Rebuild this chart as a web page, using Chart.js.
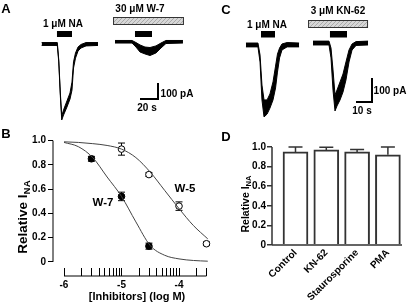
<!DOCTYPE html>
<html>
<head>
<meta charset="utf-8">
<script src="https://cdn.jsdelivr.net/npm/chart.js@4/dist/chart.umd.min.js"></script>
<style>
  body { margin: 0; background: #fff; }
  #fig { position: relative; width: 409px; height: 305px; overflow: hidden;
         font-family: "Liberation Sans", Arial, sans-serif; font-weight: bold; color: #000; }
  canvas { position: absolute; }
  .t { position: absolute; white-space: nowrap; line-height: 1; transform: translate(-50%, -50%); }
  .rot { transform: translate(-50%, -50%) rotate(-90deg); }
  sub { font-size: 0.72em; vertical-align: -0.3em; line-height: 0; }
</style>
</head>
<body>
<div id="fig">
  <canvas id="ca" width="205" height="130" style="left:0;top:0"></canvas>
  <canvas id="cc" width="204" height="130" style="left:205px;top:0"></canvas>
  <canvas id="cb" width="215" height="177" style="left:0;top:128px"></canvas>
  <canvas id="cd" width="194" height="177" style="left:215px;top:128px"></canvas>

  <div class="t" style="left:6px;top:7.5px;font-size:13px">A</div>
  <div class="t" style="left:63px;top:24px;font-size:10px">1 μM NA</div>
  <div class="t" style="left:140px;top:9px;font-size:10px">30 μM W-7</div>
  <div class="t" style="left:177px;top:94px;font-size:10px">100 pA</div>
  <div class="t" style="left:147px;top:108px;font-size:10px">20 s</div>

  <div class="t" style="left:226px;top:9px;font-size:13px">C</div>
  <div class="t" style="left:267px;top:24.5px;font-size:10px">1 μM NA</div>
  <div class="t" style="left:338px;top:11px;font-size:10px">3 μM KN-62</div>
  <div class="t" style="left:390px;top:90.5px;font-size:10px">100 pA</div>
  <div class="t" style="left:362px;top:110.5px;font-size:10px">10 s</div>

  <div class="t" style="left:6px;top:133px;font-size:13px">B</div>
  <div class="t rot" style="left:23px;top:217px;font-size:13.5px">Relative I<sub>NA</sub></div>
  <div class="t" style="left:103px;top:203px;font-size:11.5px">W-7</div>
  <div class="t" style="left:185px;top:189px;font-size:11.5px">W-5</div>
  <div class="t" style="left:137px;top:296px;font-size:11px">[Inhibitors] (log M)</div>

  <div class="t" style="left:226px;top:136px;font-size:13px">D</div>
  <div class="t rot" style="left:245px;top:203.5px;font-size:10.5px">Relative I<sub>NA</sub></div>
</div>
<script>
// Panel A: whole-cell currents (pA) vs time (s); hi/lo = envelope of the noisy trace
const A_TIME_CTRL = [46.3, 63.7, 65.3, 67.0, 68.6, 70.6, 74.4, 77.8, 80.0, 81.7, 83.9, 86.7, 90.0, 95.6, 108.9];
const A_HI_CTRL = [9, 9, -100, -300, -450, -412, -356, -306, -238, -112, -56, -19, -3, 9, 9];
const A_LO_CTRL = [-9, -9, -112, -319, -475, -444, -394, -344, -288, -150, -88, -44, -25, -12, -9];
const A_TIME_W7 = [127.8, 146.7, 151.1, 155.6, 161.1, 166.7, 173.3, 178.9, 184.4, 203.3];
const A_HI_W7 = [22, 22, 9, -6, -19, -22, -12, 6, 22, 22];
const A_LO_W7 = [6, 6, -19, -50, -62, -72, -56, -25, 3, 6];
const A_NA = [[63.3, 80], [150, 168.9]];
const A_DRUG = [[125.6, 204.4]];

// Panel C
const C_TIME_CTRL = [25.6, 33.1, 34.4, 35.6, 36.9, 38.8, 40.6, 42.5, 44.1, 45.3, 46.6, 48.1, 51.3, 58.8];
const C_HI_CTRL = [4, 4, -46, -171, -233, -233, -208, -158, -92, -42, -17, 0, 6, 4];
const C_LO_CTRL = [-12, -12, -75, -233, -304, -292, -267, -233, -183, -117, -58, -25, -12, -12];
const C_TIME_KN = [67.5, 77.5, 78.75, 80, 81.25, 82.5, 84.4, 86.25, 88.1, 90, 91.9, 94.4, 101.9];
const C_HI_KN = [12, 12, -17, -108, -212, -192, -158, -125, -75, -25, 0, 10, 12];
const C_LO_KN = [-4, -4, -58, -192, -279, -258, -233, -200, -150, -75, -25, -6, -4];
const C_NA = [[35, 43.75], [78.1, 88.75]];
const C_DRUG = [[64.4, 101.9]];

// Panel B: concentration-response (log M vs relative I_NA)
const W7_CONC = [3e-6, 1e-5, 3e-5];
const W7_MEAN = [0.85, 0.54, 0.13];
const W7_SEM = [0.02, 0.035, 0.025];
const W5_CONC = [1e-5, 3e-5, 1e-4, 3e-4];
const W5_MEAN = [0.93, 0.72, 0.46, 0.15];
const W5_SEM = [0.05, 0.015, 0.035, 0.015];
const FIT_LOG = [-6, -5.75, -5.5, -5.25, -5, -4.75, -4.5, -4.25, -4, -3.75, -3.5];
const W7_FIT = [0.985, 0.95, 0.86, 0.70, 0.54, 0.33, 0.135, 0.055, 0.025, 0.012, 0.006];
const W5_FIT = [0.99, 0.985, 0.975, 0.96, 0.93, 0.86, 0.74, 0.59, 0.44, 0.30, 0.19];
const B_TICK_CONC = [1e-6, 2e-6, 3e-6, 4e-6, 5e-6, 6e-6, 7e-6, 8e-6, 9e-6,
  1e-5, 2e-5, 3e-5, 4e-5, 5e-5, 6e-5, 7e-5, 8e-5, 9e-5, 1e-4, 2e-4, 3e-4];
const Y_TICKS = [0, 0.2, 0.4, 0.6, 0.8, 1.0];

// Panel D
const D_GROUPS = ["Control", "KN-62", "Staurosporine", "PMA"];
const D_MEAN = [0.95, 0.97, 0.95, 0.92];
const D_SEM = [0.05, 0.028, 0.025, 0.08];

Chart.defaults.font.family = '"Liberation Sans", Arial, sans-serif';
Chart.defaults.font.size = 10;
Chart.defaults.font.weight = "bold";
Chart.defaults.color = "#000";

const pts = (xs, ys) => xs.map((x, i) => ({ x, y: ys[i] }));

// light grey hatch for the drug application bar
const hatchTile = document.createElement("canvas");
hatchTile.width = 4;
hatchTile.height = 4;
{
  const g = hatchTile.getContext("2d");
  g.fillStyle = "#d6d6d6";
  g.fillRect(0, 0, 4, 4);
  g.strokeStyle = "#a9a9a9";
  g.beginPath();
  g.moveTo(0, 4);
  g.lineTo(4, 0);
  g.stroke();
}

// application bars + L-shaped scale bar, placed through the chart's own scales
function traceMarks(na, drug, look) {
  return {
    id: "traceMarks",
    afterDatasetsDraw(chart) {
      const { ctx, scales: { x, y } } = chart;
      ctx.save();
      for (const [t0, t1] of drug) {
        const x0 = x.getPixelForValue(t0), x1 = x.getPixelForValue(t1);
        ctx.fillStyle = ctx.createPattern(hatchTile, "repeat");
        ctx.fillRect(x0, look.drugY, x1 - x0, look.drugH);
        ctx.strokeStyle = "#333";
        ctx.lineWidth = 1;
        ctx.strokeRect(x0 + 0.5, look.drugY + 0.5, x1 - x0 - 1, look.drugH - 1);
      }
      ctx.fillStyle = "#000";
      for (const [t0, t1] of na) {
        const x0 = x.getPixelForValue(t0), x1 = x.getPixelForValue(t1);
        ctx.fillRect(x0, look.naY, x1 - x0, look.naH);
      }
      const [cx, cy] = look.barAt;
      const w = x.getPixelForValue(look.sec) - x.getPixelForValue(0);
      const h = y.getPixelForValue(0) - y.getPixelForValue(look.pA);
      ctx.strokeStyle = "#000";
      ctx.lineWidth = 2;
      ctx.beginPath();
      ctx.moveTo(cx - w, cy);
      ctx.lineTo(cx, cy);
      ctx.lineTo(cx, cy - h);
      ctx.stroke();
      ctx.restore();
    },
  };
}

function traceChart(id, sweeps, xMax, yMin, yMax, marks) {
  const datasets = [];
  for (const s of sweeps) {
    datasets.push({ data: pts(s.t, s.hi), borderColor: "#000", borderWidth: 1, pointRadius: 0, fill: false });
    datasets.push({ data: pts(s.t, s.lo), borderColor: "#000", borderWidth: 1, pointRadius: 0,
      fill: "-1", backgroundColor: "#000" });
  }
  return new Chart(document.getElementById(id), {
    type: "line",
    data: { datasets },
    options: {
      responsive: false,
      animation: false,
      layout: { padding: 0 },
      plugins: { legend: { display: false }, tooltip: { enabled: false } },
      scales: {
        x: { type: "linear", display: false, min: 0, max: xMax },
        y: { display: false, min: yMin, max: yMax },
      },
    },
    plugins: [marks],
  });
}

// error bars drawn under the markers
function errorBars(specs) {
  return {
    id: "errorBars",
    beforeDatasetsDraw(chart) {
      const { ctx, scales: { y } } = chart;
      ctx.save();
      for (const s of specs) {
        const meta = chart.getDatasetMeta(s.ds);
        ctx.strokeStyle = s.color;
        ctx.lineWidth = s.width;
        s.mean.forEach((m, i) => {
          const px = meta.data[i].x;
          const top = y.getPixelForValue(m + s.sem[i]);
          const bot = s.upOnly ? y.getPixelForValue(m) : y.getPixelForValue(m - s.sem[i]);
          ctx.beginPath();
          ctx.moveTo(px, bot);
          ctx.lineTo(px, top);
          ctx.moveTo(px - s.cap / 2, top);
          ctx.lineTo(px + s.cap / 2, top);
          if (!s.upOnly) {
            ctx.moveTo(px - s.cap / 2, bot);
            ctx.lineTo(px + s.cap / 2, bot);
          }
          ctx.stroke();
        });
      }
      ctx.restore();
    },
  };
}

// axis lines that only span the data range, plus inward x ticks
function rangeFrame(o) {
  return {
    id: "rangeFrame",
    afterDraw(chart) {
      const { ctx, chartArea: a, scales: { x, y } } = chart;
      ctx.save();
      ctx.strokeStyle = o.color;
      ctx.lineWidth = o.width;
      ctx.beginPath();
      ctx.moveTo(a.left, y.getPixelForValue(o.yFrom));
      ctx.lineTo(a.left, y.getPixelForValue(o.yTo));
      ctx.moveTo(x.getPixelForValue(o.xFrom), a.bottom);
      ctx.lineTo(x.getPixelForValue(o.xTo), a.bottom);
      if (o.xTickLen) {
        for (const t of x.ticks) {
          const px = Math.round(x.getPixelForValue(t.value)) + 0.5;
          ctx.moveTo(px, a.bottom);
          ctx.lineTo(px, a.bottom - o.xTickLen);
        }
      }
      ctx.stroke();
      ctx.restore();
    },
  };
}

traceChart("ca",
  [{ t: A_TIME_CTRL, hi: A_HI_CTRL, lo: A_LO_CTRL }, { t: A_TIME_W7, hi: A_HI_W7, lo: A_LO_W7 }],
  227.8, -537.5, 275,
  traceMarks(A_NA, A_DRUG, { naY: 31, naH: 6, drugY: 17, drugH: 8, barAt: [158, 99], sec: 20, pA: 100 }));

traceChart("cc",
  [{ t: C_TIME_CTRL, hi: C_HI_CTRL, lo: C_LO_CTRL }, { t: C_TIME_KN, hi: C_HI_KN, lo: C_LO_KN }],
  127.5, -358.3, 183.3,
  traceMarks(C_NA, C_DRUG, { naY: 31, naH: 6.5, drugY: 20, drugH: 8, barAt: [167, 102], sec: 10, pA: 100 }));

const isDecade = (v) => Math.abs(v - Math.round(v)) < 1e-6;

new Chart(document.getElementById("cb"), {
  type: "scatter",
  data: {
    datasets: [
      { type: "line", data: pts(FIT_LOG, W7_FIT), borderColor: "#444", borderWidth: 1, pointRadius: 0,
        cubicInterpolationMode: "monotone", fill: false, clip: false },
      { type: "line", data: pts(FIT_LOG, W5_FIT), borderColor: "#444", borderWidth: 1, pointRadius: 0,
        cubicInterpolationMode: "monotone", fill: false, clip: false },
      { data: pts(W7_CONC.map(Math.log10), W7_MEAN), pointRadius: 3.3, backgroundColor: "#000",
        borderColor: "#000", borderWidth: 1, clip: false },
      { data: pts(W5_CONC.map(Math.log10), W5_MEAN), pointRadius: 3.3, backgroundColor: "#fff",
        borderColor: "#000", borderWidth: 1, clip: false },
    ],
  },
  options: {
    responsive: false,
    animation: false,
    layout: { padding: { top: 6, right: 7, left: 0, bottom: 0 } },
    plugins: { legend: { display: false }, tooltip: { enabled: false } },
    scales: {
      x: {
        type: "linear", min: -6.191, max: -3.496,
        afterFit: (s) => { s.height = 29; },
        afterBuildTicks: (s) => { s.ticks = B_TICK_CONC.map((c) => ({ value: Math.log10(c) })); },
        grid: { display: false, drawTicks: false },
        border: { display: false },
        ticks: { autoSkip: false, maxRotation: 0, padding: 3,
          callback: (v) => (isDecade(v) ? String(Math.round(v)) : "") },
      },
      y: {
        min: -0.116, max: 1.038,
        afterFit: (s) => { s.width = 53; },
        afterBuildTicks: (s) => { s.ticks = Y_TICKS.map((v) => ({ value: v })); },
        grid: { drawOnChartArea: false, tickLength: 5, color: "#000" },
        border: { display: false },
        ticks: { padding: 2, callback: (v) => (v === 0 ? "0" : v.toFixed(1)) },
      },
    },
  },
  plugins: [
    errorBars([
      { ds: 2, mean: W7_MEAN, sem: W7_SEM, cap: 7, width: 1, color: "#000" },
      { ds: 3, mean: W5_MEAN, sem: W5_SEM, cap: 7, width: 1, color: "#000" },
    ]),
    rangeFrame({ yFrom: 0, yTo: 1, xFrom: -6, xTo: Math.log10(3e-4), xTickLen: 8, color: "#000", width: 1 }),
  ],
});

new Chart(document.getElementById("cd"), {
  type: "bar",
  data: {
    datasets: [{
      data: D_MEAN.map((v, i) => ({ x: i, y: v })),
      backgroundColor: "#fff", borderColor: "#333", borderWidth: 2, barThickness: 25,
    }],
  },
  options: {
    responsive: false,
    animation: false,
    layout: { padding: { top: 13, right: 7, left: 0, bottom: 0 } },
    plugins: { legend: { display: false }, tooltip: { enabled: false } },
    scales: {
      x: {
        type: "linear", min: -0.763, max: 3.458, offset: false,
        afterFit: (s) => { s.height = 60; },
        afterBuildTicks: (s) => { s.ticks = D_GROUPS.map((_, i) => ({ value: i })); },
        grid: { display: false, drawTicks: false, offset: false },
        border: { display: false },
        ticks: { autoSkip: false, minRotation: 45, maxRotation: 45, padding: 2,
          callback: (v) => D_GROUPS[v] },
      },
      y: {
        min: 0, max: 1.061,
        afterFit: (s) => { s.width = 57; },
        afterBuildTicks: (s) => { s.ticks = Y_TICKS.map((v) => ({ value: v })); },
        grid: { drawOnChartArea: false, tickLength: 5, color: "#333", lineWidth: 1.5 },
        border: { display: false },
        ticks: { padding: 1, callback: (v) => (v === 0 ? "0" : v.toFixed(1)) },
      },
    },
  },
  plugins: [
    errorBars([{ ds: 0, mean: D_MEAN, sem: D_SEM, cap: 14, width: 1.5, color: "#333", upOnly: true }]),
    rangeFrame({ yFrom: 0, yTo: 1, xFrom: -0.763, xTo: 3.458, color: "#333", width: 1.5 }),
  ],
});
</script>
</body>
</html>
